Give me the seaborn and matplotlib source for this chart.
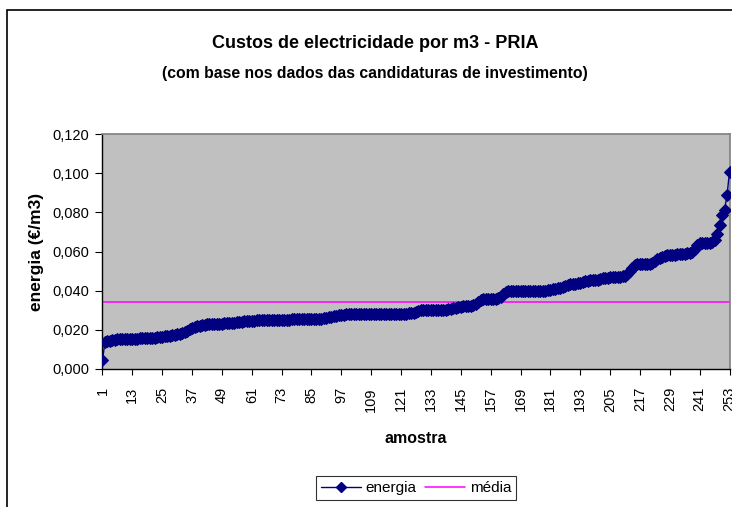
import numpy as np
import pandas as pd
import seaborn as sns
import matplotlib.pyplot as plt
from matplotlib.patches import Rectangle
from matplotlib.lines import Line2D

# energia (€/m3) por amostra (ordenada)
energia = [
    0.0046, 0.0138, 0.0142, 0.0145, 0.0148, 0.0150, 0.0152, 0.0153, 0.0154, 0.0154, 0.0155, 0.0155,
    0.0155, 0.0155, 0.0155, 0.0156, 0.0156, 0.0156, 0.0157, 0.0157, 0.0158, 0.0160, 0.0163, 0.0165,
    0.0165, 0.0166, 0.0167, 0.0168, 0.0172, 0.0175, 0.0178, 0.0180, 0.0183, 0.0190, 0.0196, 0.0202,
    0.0208, 0.0213, 0.0218, 0.0222, 0.0225, 0.0226, 0.0228, 0.0229, 0.0230, 0.0230, 0.0231, 0.0232,
    0.0232, 0.0233, 0.0233, 0.0234, 0.0235, 0.0236, 0.0238, 0.0240, 0.0242, 0.0243, 0.0244, 0.0245,
    0.0246, 0.0247, 0.0248, 0.0249, 0.0250, 0.0250, 0.0251, 0.0251, 0.0251, 0.0252, 0.0252, 0.0252,
    0.0252, 0.0252, 0.0252, 0.0252, 0.0253, 0.0253, 0.0253, 0.0253, 0.0253, 0.0253, 0.0253, 0.0254,
    0.0254, 0.0254, 0.0254, 0.0255, 0.0256, 0.0258, 0.0262, 0.0266, 0.0268, 0.0270, 0.0272, 0.0274,
    0.0276, 0.0278, 0.0279, 0.0280, 0.0280, 0.0280, 0.0281, 0.0281, 0.0281, 0.0281, 0.0281, 0.0281,
    0.0281, 0.0281, 0.0281, 0.0281, 0.0282, 0.0282, 0.0282, 0.0282, 0.0282, 0.0282, 0.0282, 0.0282,
    0.0282, 0.0283, 0.0283, 0.0284, 0.0285, 0.0288, 0.0293, 0.0298, 0.0300, 0.0301, 0.0301, 0.0301,
    0.0301, 0.0301, 0.0302, 0.0302, 0.0302, 0.0302, 0.0303, 0.0304, 0.0306, 0.0309, 0.0313, 0.0316,
    0.0318, 0.0320, 0.0321, 0.0322, 0.0324, 0.0328, 0.0334, 0.0342, 0.0350, 0.0356, 0.0358, 0.0358,
    0.0358, 0.0359, 0.0360, 0.0362, 0.0370, 0.0382, 0.0392, 0.0396, 0.0396, 0.0396, 0.0396, 0.0396,
    0.0396, 0.0396, 0.0396, 0.0396, 0.0396, 0.0396, 0.0396, 0.0397, 0.0397, 0.0398, 0.0400, 0.0403,
    0.0405, 0.0408, 0.0410, 0.0412, 0.0414, 0.0418, 0.0424, 0.0430, 0.0432, 0.0434, 0.0436, 0.0438,
    0.0440, 0.0444, 0.0448, 0.0450, 0.0452, 0.0453, 0.0454, 0.0456, 0.0460, 0.0464, 0.0466, 0.0467,
    0.0468, 0.0468, 0.0469, 0.0470, 0.0471, 0.0473, 0.0476, 0.0485, 0.0500, 0.0518, 0.0530, 0.0534,
    0.0534, 0.0535, 0.0535, 0.0536, 0.0536, 0.0540, 0.0550, 0.0560, 0.0565, 0.0570, 0.0576, 0.0580,
    0.0582, 0.0583, 0.0584, 0.0585, 0.0586, 0.0587, 0.0588, 0.0590, 0.0593, 0.0600, 0.0615, 0.0633,
    0.0642, 0.0643, 0.0643, 0.0644, 0.0645, 0.0648, 0.0660, 0.0690, 0.0733, 0.0784, 0.0813, 0.0887,
    0.1006,
]
media = 0.034
amostra = list(range(1, len(energia) + 1))
tick_labels = [str(n) for n in range(1, 254, 12)]
y_ticks = [0.0, 0.02, 0.04, 0.06, 0.08, 0.10, 0.12]

df = pd.DataFrame({"amostra": amostra, "energia": energia})

sns.set_style("white")
plt.rcParams['font.family'] = ['Liberation Sans', 'DejaVu Sans']
plt.rcParams['text.color'] = 'black'
plt.rcParams['axes.labelcolor'] = 'black'
plt.rcParams['xtick.color'] = 'black'
plt.rcParams['ytick.color'] = 'black'

fig = plt.figure(figsize=(7.32, 5.07), dpi=100)
ax = fig.add_axes([102 / 732, 1 - 369 / 507, 628 / 732, 235 / 507])
ax.set_facecolor('#C0C0C0')

# mean line
ax.plot([0.8, 253.2], [media, media], color='#FF00FF', lw=1.1, zorder=2)

# energy series
sns.lineplot(data=df, x="amostra", y="energia", ax=ax, color='#000080', marker='D',
             markersize=6, markeredgecolor='#000080', lw=1, zorder=3, legend=False)

ax.set_xlim(0.8, 253.2)
ax.set_ylim(0, 0.12)
ax.set_yticks(y_ticks)
ax.set_yticklabels([f"{v:.3f}".replace('.', ',') for v in y_ticks], fontsize=10.5)
ax.set_xticks(amostra, minor=True)
ax.set_xticks([int(t) for t in tick_labels])
ax.set_xticklabels(tick_labels, rotation=90, fontsize=10.5)
ax.tick_params(axis='x', which='both', direction='out', length=4, width=0.8, color='black', pad=9)
ax.tick_params(axis='y', direction='out', length=5, width=0.8, color='black', pad=4)
ax.tick_params(left=True, bottom=True)

for s in ['left', 'bottom']:
    ax.spines[s].set_color('black')
    ax.spines[s].set_linewidth(1)
for s in ['top', 'right']:
    ax.spines[s].set_color('#808080')
    ax.spines[s].set_linewidth(1.2)

ax.set_xlabel("amostra", fontsize=11.5, fontweight='bold', labelpad=14)
ax.set_ylabel("energia (€/m3)", fontsize=12.5, fontweight='bold', labelpad=6)

fig.text(375 / 732, 1 - 43 / 507, "Custos de electricidade por m3 - PRIA", ha='center', va='center',
         fontsize=13, fontweight='bold')
fig.text(375 / 732, 1 - 73 / 507, "(com base nos dados das candidaturas de investimento)", ha='center',
         va='center', fontsize=11.3, fontweight='bold')

# chart area border
fig.patches.append(Rectangle((7 / 732, -0.1), 1.1, 1 - 10 / 507 + 0.1, transform=fig.transFigure,
                             fill=False, edgecolor='black', lw=1.2))

handles = [Line2D([], [], color='#000080', marker='D', markersize=5, lw=1),
           Line2D([], [], color='#FF00FF', lw=1.1)]
leg = fig.legend(handles, ["energia", "média"], loc='center', bbox_to_anchor=(416 / 732, 1 - 488 / 507),
                 ncol=2, fontsize=11, frameon=True, fancybox=False, handlelength=2.6,
                 columnspacing=0.6, handletextpad=0.3, borderpad=0.35)
leg.get_frame().set_edgecolor('black')
leg.get_frame().set_linewidth(0.8)

fig.savefig("out.png", dpi=100)
